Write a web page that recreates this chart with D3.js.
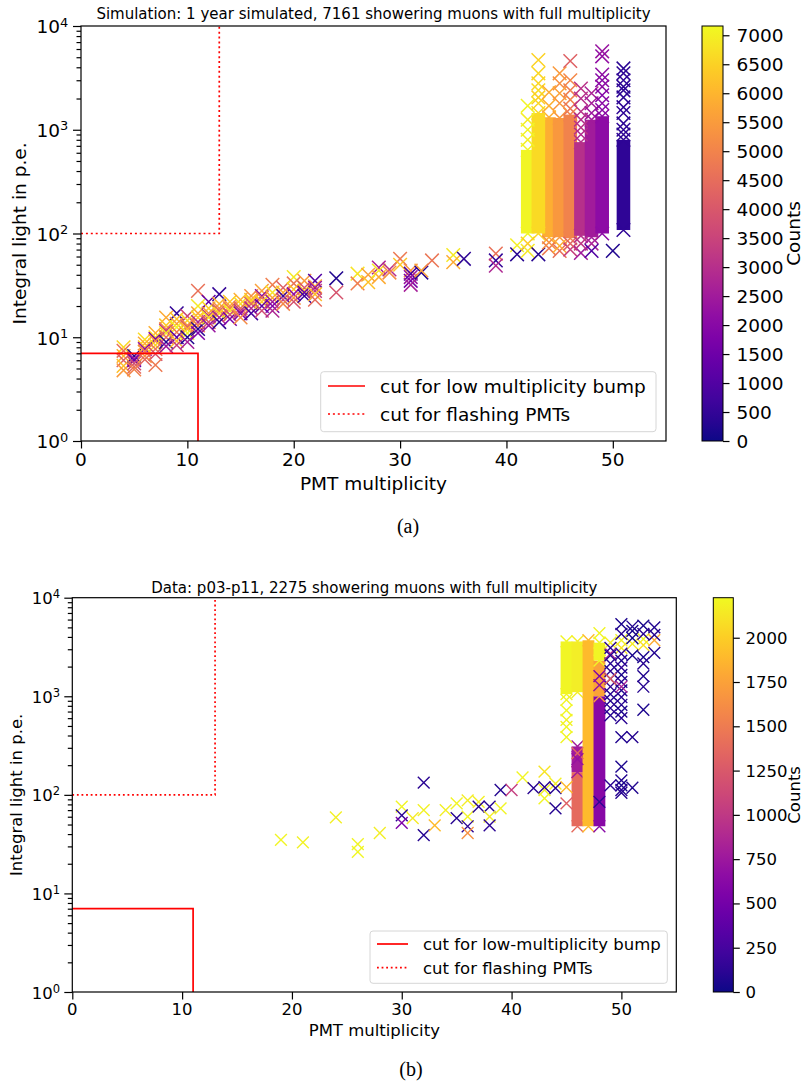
<!DOCTYPE html>
<html>
<head>
<meta charset="utf-8">
<script src="https://cdn.jsdelivr.net/npm/d3@7"></script>
<style>
  body { margin: 0; background: #fff; }
  text { font-family: "DejaVu Sans", sans-serif; fill: #000; }
  .caption { font-family: "Liberation Serif", "Times New Roman", serif; }
</style>
</head>
<body>
<svg id="fig" width="804" height="1086"></svg>
<script>
// ---------- shared axis values ----------
const xTicks = [0, 10, 20, 30, 40, 50];
const yDecades = [0, 1, 2, 3, 4];
const xDomain = [0, 55];
const yDomain = [1, 10000];

// selection cuts: [PMT multiplicity, integral light]
const cutLowMultiplicity = [[0, 7], [11, 7], [11, 1]];
const cutFlashingPMTs = [[0, 100], [13, 100], [13, 10000]];

// ---------- simulation (panel a) ----------
const simTitle = "Simulation: 1 year simulated, 7161 showering muons with full multiplicity";
const simLegend = ["cut for low multiplicity bump", "cut for flashing PMTs"];
const simCountTicks = [0, 500, 1000, 1500, 2000, 2500, 3000, 3500, 4000, 4500, 5000, 5500, 6000, 6500, 7000];
const simCountMax = 7160;
// densely populated multiplicity columns: [multiplicity, light low, light high, count]
const simBands = [
  [42, 100, 640, 7080],
  [44, 92, 1320, 5870],
  [45, 92, 1300, 5450],
  [46, 90, 1400, 5000],
  [43, 100, 1450, 6650],
  [47, 95, 760, 3000],
  [48, 92, 1250, 2500],
  [49, 100, 1350, 2080],
  [51, 108, 800, 420]
];
// individual events: [multiplicity, light, count]
const simPoints = [
  [4, 8.0, 6600], [4, 7.4, 4600], [4, 6.6, 5900], [4, 6.0, 4300], [4, 5.3, 6200], [4, 4.8, 5500],
  [5, 6.6, 300], [5, 6.2, 2600], [5, 6.0, 1500], [5, 5.6, 3700], [5, 5.2, 4400], [5, 4.9, 5000],
  [6, 9.5, 6700], [6, 8.7, 5800], [6, 8.0, 6300], [6, 7.7, 2200], [6, 7.3, 4900], [6, 6.6, 5300], [6, 6.1, 4400],
  [7, 11, 5900], [7, 10, 6800], [7, 9.6, 1700], [7, 9.2, 5200], [7, 8.4, 6500], [7, 7.7, 4700], [7, 6.9, 3900], [7, 5.4, 4800],
  [8, 15.5, 5800], [8, 13, 6400], [8, 12, 5100], [8, 11.5, 3300], [8, 11, 6900], [8, 10, 4500], [8, 9, 300], [8, 8.2, 2400],
  [9, 17, 500], [9, 15, 6200], [9, 13.5, 5600], [9, 12.5, 7000], [9, 11.2, 4800], [9, 10, 1100], [9, 9.2, 6100], [9, 8.4, 3400],
  [10, 16, 3500], [10, 14.5, 6600], [10, 13, 5300], [10, 12.5, 4200], [10, 12, 6000], [10, 11, 7100], [10, 10, 200], [10, 9, 2600],
  [11, 28, 4600], [11, 20, 6900], [11, 17, 5700], [11, 15.5, 6300], [11, 14, 2800], [11, 13, 5000], [11, 12, 300], [11, 11, 1800],
  [12, 22, 1300], [12, 19, 6500], [12, 17, 5400], [12, 16, 3100], [12, 15.5, 6800], [12, 14, 4100], [12, 13, 2300],
  [13, 26, 500], [13, 21, 6000], [13, 19, 5200], [13, 18, 4400], [13, 17, 6600], [13, 15.5, 2700], [13, 14, 400],
  [14, 22, 6300], [14, 20, 5500], [14, 19, 4900], [14, 18, 6900], [14, 16.5, 3800], [14, 15, 1600],
  [15, 23, 5900], [15, 21, 6700], [15, 19, 4600], [15, 18, 3200], [15, 17, 2000], [15, 15.5, 5200],
  [16, 25, 5300], [16, 23, 6100], [16, 22, 6600], [16, 21, 4300], [16, 19, 2900], [16, 17, 800],
  [17, 28, 5600], [17, 25, 2100], [17, 24, 4800], [17, 22, 6400], [17, 20, 1200], [17, 18, 3700],
  [18, 32, 4900], [18, 27, 6800], [18, 24, 5700], [18, 22, 2500], [18, 20, 1900], [18, 18, 2800],
  [19, 30, 4200], [19, 27, 5800], [19, 25, 600], [19, 23, 3600], [19, 21, 5100],
  [20, 38, 6900], [20, 33, 4700], [20, 29, 6200], [20, 26, 2200], [20, 24, 5300], [20, 22, 3900],
  [21, 35, 5500], [21, 30, 4000], [21, 28, 6400], [21, 27, 1400], [21, 25, 600],
  [22, 35, 1000], [22, 31, 5800], [22, 30, 2400], [22, 28, 3300], [22, 26, 6100], [22, 23, 4500],
  [24, 37, 200], [24, 27, 3900],
  [26, 41, 6800], [26, 33, 4900],
  [27, 40, 5600], [27, 34, 6200],
  [28, 47, 2700], [28, 44, 6900], [28, 38, 5800],
  [29, 45, 3000], [29, 42, 5200],
  [30, 57, 4800], [30, 50, 6300],
  [31, 44, 5400], [31, 41, 900], [31, 38, 2300], [31, 35, 1700], [31, 32, 2600],
  [32, 42, 300], [32, 44, 5600],
  [33, 55, 4700],
  [35, 62, 6900], [35, 53, 5800],
  [36, 57, 400],
  [39, 64, 4600], [39, 55, 500], [39, 49, 2800],
  [41, 77, 7000], [41, 63, 300],
  [42, 80, 6400], [42, 68, 6900],
  [43, 63, 300],
  [44, 72, 4800], [44, 82, 5300],
  [45, 68, 4600], [45, 76, 5900],
  [46, 70, 3400], [46, 80, 4300],
  [47, 65, 2500], [47, 80, 3200],
  [48, 80, 2700], [48, 68, 1000],
  [50, 68, 200],
  [42, 1700, 7100], [42, 1250, 6950], [42, 1000, 7050], [42, 800, 7000],
  [43, 4700, 6500], [43, 3500, 6600], [43, 2800, 6550], [43, 2400, 6700], [43, 2050, 6450], [43, 1800, 6600],
  [44, 2300, 5800], [44, 1700, 5900],
  [45, 3500, 5500], [45, 2800, 5300], [45, 2250, 5600], [45, 1800, 5400],
  [46, 4600, 4200], [46, 3000, 5100], [46, 2400, 4900], [46, 1950, 5000], [46, 1600, 4700],
  [47, 2500, 3100], [47, 2000, 3000], [47, 1500, 3050], [47, 1250, 2950], [47, 1050, 3100], [47, 900, 2900],
  [48, 2250, 2700], [48, 1800, 2600], [48, 1450, 2400],
  [49, 5700, 2300], [49, 5100, 2200], [49, 3400, 2100], [49, 3000, 2000], [49, 2600, 2100], [49, 2150, 1900], [49, 1800, 2050], [49, 1550, 2000],
  [51, 3900, 350], [51, 3500, 400], [51, 3000, 450], [51, 2600, 380], [51, 2400, 420], [51, 2050, 360],
  [51, 1650, 400], [51, 1450, 430], [51, 1150, 390], [51, 1000, 410], [51, 900, 380]
];

// ---------- data (panel b) ----------
const dataTitle = "Data: p03-p11, 2275 showering muons with full multiplicity";
const dataLegend = ["cut for low-multiplicity bump", "cut for flashing PMTs"];
const dataCountTicks = [0, 250, 500, 750, 1000, 1250, 1500, 1750, 2000];
const dataCountMax = 2226;
const dataBands = [
  [46, 48, 170, 1380],
  [46, 170, 310, 780],
  [45, 1050, 3600, 2200],
  [46, 1100, 3600, 2170],
  [47, 48, 3700, 1890],
  [48, 48, 1000, 620],
  [48, 1000, 2300, 1750],
  [48, 2300, 3500, 2200]
];
const dataPoints = [
  [19, 35, 2200], [21, 33, 2190], [24, 59, 2180], [26, 31.6, 2200], [26, 26.4, 2210], [28, 41, 2170],
  [30, 76, 2200], [30, 62, 120], [30, 52, 560], [31, 58, 2150], [32, 133, 110], [32, 70, 2190], [32, 39, 90],
  [33, 49, 1900], [34, 70, 2180], [35, 58, 100], [35, 82, 2200], [36, 88, 2160], [36, 60, 2200], [36, 48, 130],
  [36, 41, 1650], [37, 85, 2180], [37, 76, 110], [38, 76, 90], [38, 60, 2170], [38, 49, 120], [39, 73, 2200],
  [39, 112, 80], [40, 112, 1050], [41, 150, 2200], [42, 117, 100], [43, 172, 2120], [43, 112, 2190], [43, 92, 2200],
  [43, 120, 110], [44, 130, 2180], [44, 117, 100], [44, 73, 90], [45, 82, 1300], [45, 120, 1900],
  [45, 920, 2200], [45, 720, 2210], [45, 575, 2190], [45, 490, 2200], [45, 385, 2205],
  [46, 265, 1350], [46, 230, 700],
  [49, 2150, 90], [49, 1800, 110], [49, 1500, 70], [49, 1250, 130], [49, 1050, 100], [49, 900, 80], [49, 760, 120], [49, 640, 95],
  [50, 2300, 60], [50, 1950, 140], [50, 1650, 50], [50, 1400, 100], [50, 1150, 70], [50, 980, 120], [50, 820, 90], [50, 700, 60], [50, 600, 110],
  [49, 1500, 1300], [50, 1250, 820], [49, 2700, 900], [48, 1600, 560], [48, 1300, 700],
  [48, 4370, 2200], [49, 3500, 2180], [50, 3700, 2190], [51, 3400, 2150], [52, 3800, 2200], [53, 3700, 1800],
  [52, 3300, 2100], [50, 3100, 2120],
  [50, 5400, 60], [51, 5100, 80], [52, 5200, 40], [53, 5000, 70], [50, 4300, 100], [51, 4600, 50], [52, 4300, 120],
  [53, 4200, 90], [49, 3100, 110], [51, 3900, 30], [53, 2750, 80], [52, 2500, 60], [52, 2150, 100], [52, 1600, 70],
  [52, 1250, 90], [52, 730, 60], [51, 2600, 40], [50, 2700, 130], [49, 2600, 110],
  [50, 385, 70], [51, 385, 90], [50, 193, 60], [50, 140, 80], [50, 125, 50], [50, 112, 100], [51, 118, 70],
  [49, 125, 110], [48, 85, 130], [50, 105, 90]
];

// ---------- layout ----------
const layoutA = {
  left: 81, right: 666, top: 26, bottom: 441,
  cbLeft: 702, cbRight: 723,
  font: 18.5, marker: 6.8, markerStroke: 1.5,
  titleY: 19, xLabelY: 490, yLabelX: 25.5, cbLabelX: 799.5,
  yTickLabelGap: 12.7, xTickLabelY: 466.2, cbTickLabelX: 736.5,
  legend: { x: 320.7, y: 371.7, w: 335.3, h: 60, rows: [386, 414], lineX: [328, 365], textX: 380 },
  caption: "(a)", captionX: 408, captionY: 533,
  dots: "2,2.9"
};
const layoutB = {
  left: 72.3, right: 676.3, top: 597.7, bottom: 992,
  cbLeft: 713.3, cbRight: 733.3,
  font: 16.5, marker: 5.9, markerStroke: 1.4,
  titleY: 592.7, xLabelY: 1036, yLabelX: 21.5, cbLabelX: 800,
  yTickLabelGap: 12.3, xTickLabelY: 1015.3, cbTickLabelX: 745.5,
  legend: { x: 370, y: 931, w: 297.3, h: 52.3, rows: [944, 967.7], lineX: [377, 408], textX: 423 },
  caption: "(b)", captionX: 411, captionY: 1076,
  dots: "1.8,2.8"
};

const svg = d3.select("#fig");

function xMarker(h) {
  return `M${-h},${-h}L${h},${h}M${-h},${h}L${h},${-h}`;
}

function drawPanel(id, L, bands, points, countTicks, countMax, title, legendLabels) {
  const g = svg.append("g").attr("id", id);
  const x = d3.scaleLinear().domain(xDomain).range([L.left, L.right]);
  const y = d3.scaleLog().domain(yDomain).range([L.bottom, L.top]);
  const color = d3.scaleSequential(d3.interpolatePlasma).domain([0, countMax]);
  const fs = L.font;

  // clip region for the plotted events
  g.append("clipPath").attr("id", id + "-clip")
    .append("rect").attr("x", L.left).attr("y", L.top)
    .attr("width", L.right - L.left).attr("height", L.bottom - L.top);
  const plot = g.append("g").attr("clip-path", `url(#${id}-clip)`);

  // dense multiplicity columns
  const h = L.marker;
  bands.forEach(b => {
    const c = color(b[3]);
    plot.append("rect")
      .attr("x", x(b[0]) - h).attr("width", 2 * h)
      .attr("y", y(b[2])).attr("height", y(b[1]) - y(b[2]))
      .attr("fill", c);
    [b[1], b[2]].forEach(v => {
      plot.append("path").attr("d", xMarker(h))
        .attr("transform", `translate(${x(b[0])},${y(v)})`)
        .attr("fill", "none").attr("stroke", c).attr("stroke-width", L.markerStroke);
    });
  });

  // individual events
  plot.selectAll("path.evt").data(points).join("path")
    .attr("class", "evt")
    .attr("d", xMarker(h))
    .attr("transform", d => `translate(${x(d[0])},${y(d[1])})`)
    .attr("fill", "none")
    .attr("stroke", d => color(d[2]))
    .attr("stroke-width", L.markerStroke);

  // cut lines
  const line = d3.line().x(d => x(d[0])).y(d => y(d[1]));
  g.append("path").attr("d", line(cutLowMultiplicity))
    .attr("fill", "none").attr("stroke", "#ff0000").attr("stroke-width", 1.7);
  g.append("path").attr("d", line(cutFlashingPMTs))
    .attr("fill", "none").attr("stroke", "#ff0000").attr("stroke-width", 1.7)
    .attr("stroke-dasharray", L.dots);

  // axes: ticks
  const allY = y.ticks();
  const majorY = yDecades.map(e => Math.pow(10, e));
  const minorY = allY.filter(v => !majorY.some(m => Math.abs(m - v) < 1e-9));
  const axY1 = g.append("g").attr("transform", `translate(${L.left},0)`)
    .call(d3.axisLeft(y).tickValues(minorY).tickSize(4.5).tickFormat(""));
  const axY2 = g.append("g").attr("transform", `translate(${L.left},0)`)
    .call(d3.axisLeft(y).tickValues(majorY).tickSize(8).tickFormat(""));
  const axX = g.append("g").attr("transform", `translate(0,${L.bottom})`)
    .call(d3.axisBottom(x).tickValues(xTicks).tickSize(7.5).tickFormat(""));
  [axY1, axY2, axX].forEach(a => {
    a.select(".domain").remove();
    a.selectAll(".tick line").attr("stroke", "#000").attr("stroke-width", 1.2);
  });

  // y tick labels 10^k
  yDecades.forEach(e => {
    const t = g.append("text")
      .attr("x", L.left - L.yTickLabelGap)
      .attr("y", y(Math.pow(10, e)) + fs * 0.395)
      .attr("text-anchor", "end")
      .attr("font-size", fs);
    t.append("tspan").text("10");
    t.append("tspan").attr("dy", -fs * 0.36).attr("font-size", fs * 0.7).text(String(e));
  });
  // x tick labels
  xTicks.forEach(v => {
    g.append("text").attr("x", x(v)).attr("y", L.xTickLabelY)
      .attr("text-anchor", "middle").attr("font-size", fs).text(String(v));
  });

  // frame
  g.append("rect").attr("x", L.left).attr("y", L.top)
    .attr("width", L.right - L.left).attr("height", L.bottom - L.top)
    .attr("fill", "none").attr("stroke", "#000").attr("stroke-width", 1.2);

  // axis labels and title
  g.append("text").attr("x", (L.left + L.right) / 2).attr("y", L.xLabelY)
    .attr("text-anchor", "middle").attr("font-size", fs).text("PMT multiplicity");
  g.append("text")
    .attr("transform", `translate(${L.yLabelX},${(L.top + L.bottom) / 2}) rotate(-90)`)
    .attr("text-anchor", "middle").attr("font-size", fs).text("Integral light in p.e.");
  g.append("text").attr("x", (L.left + L.right) / 2).attr("y", L.titleY)
    .attr("text-anchor", "middle").attr("font-size", 15).text(title);

  // legend
  const lg = L.legend;
  g.append("rect").attr("x", lg.x).attr("y", lg.y).attr("width", lg.w).attr("height", lg.h)
    .attr("rx", 3).attr("fill", "#fff").attr("fill-opacity", 0.8)
    .attr("stroke", "#d6d6d6").attr("stroke-width", 1);
  legendLabels.forEach((lab, i) => {
    const ly = lg.rows[i];
    const seg = g.append("line").attr("x1", lg.lineX[0]).attr("x2", lg.lineX[1])
      .attr("y1", ly).attr("y2", ly)
      .attr("stroke", "#ff0000").attr("stroke-width", 1.7);
    if (i === 1) seg.attr("stroke-dasharray", L.dots);
    g.append("text").attr("x", lg.textX).attr("y", ly + fs * 0.36)
      .attr("font-size", fs).text(lab);
  });

  // colour bar
  const cy = d3.scaleLinear().domain([0, countMax]).range([L.bottom, L.top]);
  const grad = g.append("linearGradient").attr("id", id + "-grad")
    .attr("x1", 0).attr("y1", 1).attr("x2", 0).attr("y2", 0);
  d3.range(0, 1.0001, 0.05).forEach(t => {
    grad.append("stop").attr("offset", t).attr("stop-color", d3.interpolatePlasma(t));
  });
  g.append("rect").attr("x", L.cbLeft).attr("y", L.top)
    .attr("width", L.cbRight - L.cbLeft).attr("height", L.bottom - L.top)
    .attr("fill", `url(#${id}-grad)`).attr("stroke", "#000").attr("stroke-width", 1);
  const axC = g.append("g").attr("transform", `translate(${L.cbRight},0)`)
    .call(d3.axisRight(cy).tickValues(countTicks).tickSize(6.5).tickFormat(""));
  axC.select(".domain").remove();
  axC.selectAll(".tick line").attr("stroke", "#000").attr("stroke-width", 1.2);
  countTicks.forEach(v => {
    g.append("text").attr("x", L.cbTickLabelX).attr("y", cy(v) + fs * 0.36)
      .attr("font-size", fs).text(String(v));
  });
  g.append("text")
    .attr("transform", `translate(${L.cbLabelX},${(L.top + L.bottom) / 2}) rotate(-90)`)
    .attr("text-anchor", "middle").attr("font-size", fs).text("Counts");

  // sub-figure caption
  svg.append("text").attr("class", "caption")
    .attr("x", L.captionX).attr("y", L.captionY)
    .attr("text-anchor", "middle").attr("font-size", 20).text(L.caption);
}

drawPanel("sim", layoutA, simBands, simPoints, simCountTicks, simCountMax, simTitle, simLegend);
drawPanel("data", layoutB, dataBands, dataPoints, dataCountTicks, dataCountMax, dataTitle, dataLegend);
</script>
</body>
</html>
